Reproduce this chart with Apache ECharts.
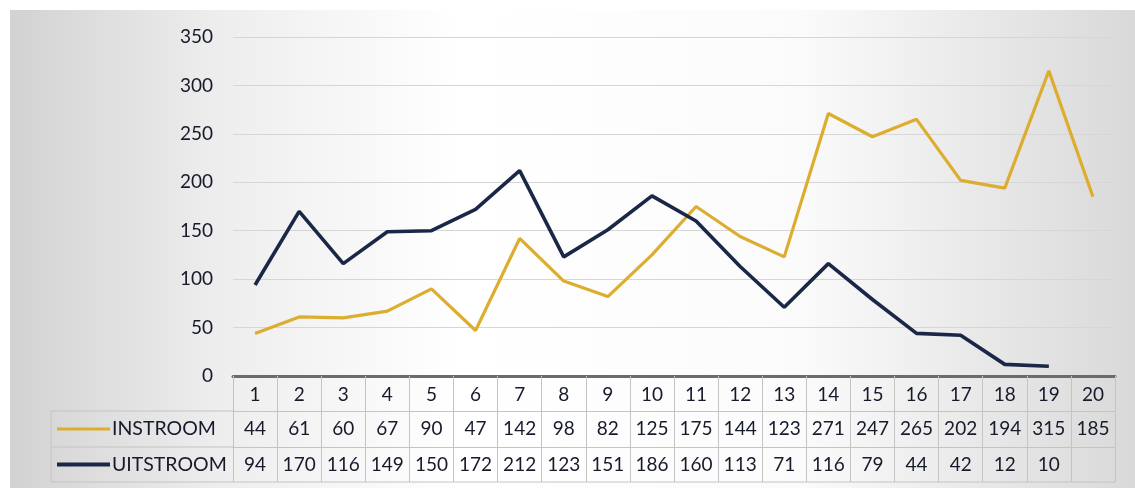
<!DOCTYPE html>
<html>
<head>
<meta charset="utf-8">
<script src="https://cdn.jsdelivr.net/npm/echarts@6/dist/echarts.min.js"></script>
<style>
  html, body { margin: 0; padding: 0; background: #ffffff; }
  #chart { width: 1135px; height: 488px; }
</style>
</head>
<body>
<div id="chart"></div>
<script>
// Periods 1..20 and the two flows per period
const periods = ['1','2','3','4','5','6','7','8','9','10','11','12','13','14','15','16','17','18','19','20'];
const instroom = [44, 61, 60, 67, 90, 47, 142, 98, 82, 125, 175, 144, 123, 271, 247, 265, 202, 194, 315, 185];
const uitstroom = [94, 170, 116, 149, 150, 172, 212, 123, 151, 186, 160, 113, 71, 116, 79, 44, 42, 12, 10, null];
const seriesNames = ['INSTROOM', 'UITSTROOM'];
const yTicks = { min: 0, max: 350, step: 50 };

// Layout
const W = 1135, H = 488;
const G = { left: 233, right: 20, top: 37, bottom: 112 };
const plotRight = W - G.right;
const axisY = H - G.bottom;          // y of the zero line
const rowEdges = [0, 35, 71, 106];   // table row borders, measured down from the zero line
const tableLeft = 51;
const FONT = 'Lato, "Open Sans", "Noto Sans", sans-serif';
const textColor = '#161a2a';
const gold = '#dcad2e';
const navy = '#1a2747';
const cellLine = '#c4c4c4';

const chart = echarts.init(document.getElementById('chart'), null, { renderer: 'canvas' });

function rowAxis(idx, values, margin) {
  return {
    type: 'category',
    data: periods,
    position: 'bottom',
    offset: rowEdges[idx],
    boundaryGap: true,
    axisLine: { show: idx > 0, lineStyle: { color: cellLine, width: 1 } },
    axisTick: { show: false },
    splitLine: { show: false },
    axisLabel: {
      interval: 0,
      margin: margin,
      fontFamily: FONT,
      fontSize: 19,
      lineHeight: 22,
      color: textColor,
      formatter: (v, i) => (values[i] == null ? '' : String(values[i]))
    }
  };
}

const headerAxis = rowAxis(0, periods, 8);
headerAxis.axisLine = { show: true, lineStyle: { color: '#6b6b6b', width: 3 } };
headerAxis.axisTick = { show: true, interval: 0, length: rowEdges[3], lineStyle: { color: cellLine, width: 1 } };

const legendRows = seriesNames.map((name, k) => {
  const cy = axisY + (rowEdges[k + 1] + rowEdges[k + 2]) / 2;
  return [
    { type: 'line', shape: { x1: 57, y1: cy, x2: 110, y2: cy },
      style: { stroke: k === 0 ? gold : navy, lineWidth: k === 0 ? 3 : 4 }, z: 10 },
    { type: 'text', style: { x: 112, y: cy, text: name, fill: textColor,
      font: '19.5px ' + FONT, textVerticalAlign: 'middle', textAlign: 'left' }, z: 10 }
  ];
}).flat();

const hLine = (y, x1, x2) => ({ type: 'line', shape: { x1: x1, y1: y, x2: x2, y2: y },
  style: { stroke: cellLine, lineWidth: 1 }, z: 5 });

const tableLines = [
  // left border of the legend cells
  { type: 'line', shape: { x1: tableLeft, y1: axisY + rowEdges[1], x2: tableLeft, y2: axisY + rowEdges[3] },
    style: { stroke: cellLine, lineWidth: 1 }, z: 5 },
  // horizontal borders extended under the legend cells
  hLine(axisY + rowEdges[1], tableLeft, G.left),
  hLine(axisY + rowEdges[2], tableLeft, G.left),
  hLine(axisY + rowEdges[3], tableLeft, plotRight)
];

const option = {
  animation: false,
  backgroundColor: '#ffffff',
  graphic: [
    { type: 'rect', shape: { x: 10, y: 10, width: W - 10, height: H - 10 }, z: -100, silent: true,
      style: { fill: new echarts.graphic.LinearGradient(0, 0, 1, 0, [
        { offset: 0, color: '#d2d2d2' },
        { offset: 0.18, color: '#ededed' },
        { offset: 0.4, color: '#ffffff' },
        { offset: 0.7, color: '#fbfbfb' },
        { offset: 1, color: '#d9d9d9' }
      ]) } },
    ...tableLines,
    ...legendRows
  ],
  grid: { left: G.left, right: G.right, top: G.top, bottom: G.bottom, containLabel: false },
  xAxis: [headerAxis, rowAxis(1, instroom, 7), rowAxis(2, uitstroom, 7)],
  yAxis: {
    type: 'value',
    min: yTicks.min,
    max: yTicks.max,
    interval: yTicks.step,
    axisLine: { show: false },
    axisTick: { show: false },
    axisLabel: { margin: 20, fontFamily: FONT, fontSize: 19, color: textColor },
    splitLine: { lineStyle: { color: '#d6d6d6', width: 1 } }
  },
  series: [
    { name: seriesNames[0], type: 'line', data: instroom, xAxisIndex: 0, symbol: 'none',
      lineStyle: { color: gold, width: 3.2 }, z: 3 },
    { name: seriesNames[1], type: 'line', data: uitstroom, xAxisIndex: 0, symbol: 'none',
      lineStyle: { color: navy, width: 3.6 }, z: 4 }
  ]
};

chart.setOption(option);
</script>
</body>
</html>
